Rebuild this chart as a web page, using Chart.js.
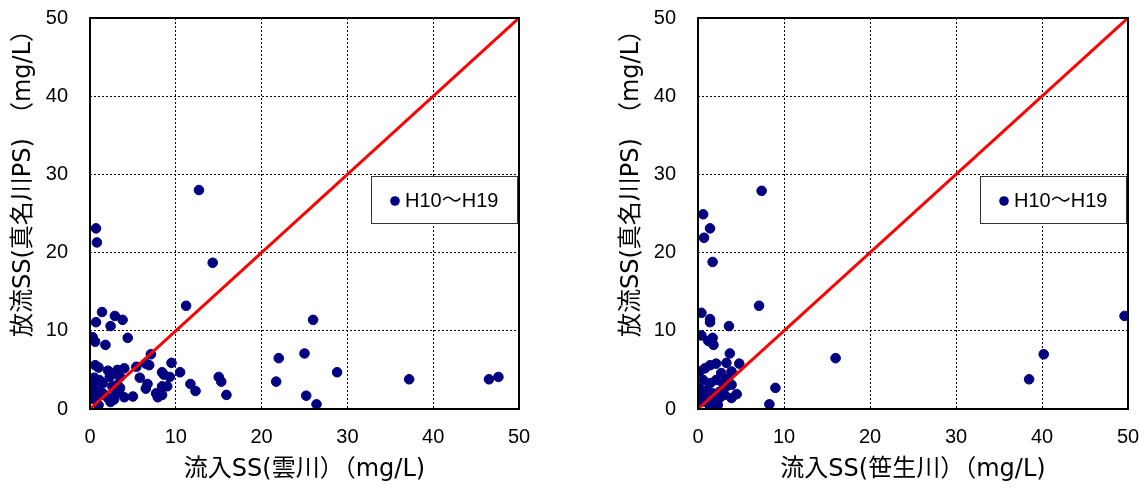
<!DOCTYPE html>
<html>
<head>
<meta charset="utf-8">
<script src="https://cdn.jsdelivr.net/npm/chart.js@4"></script>
<style>
    body { margin: 0; background: #fff; }
    #wrap { position: relative; width: 1147px; height: 490px; }
    canvas { position: absolute; top: 0; }
</style>
</head>
<body>
<div id="wrap">
    <canvas id="leftChart" width="560" height="490" style="left:0"></canvas>
    <canvas id="rightChart" width="539" height="490" style="left:608px"></canvas>
</div>
<script>
// 雲川 -> 真名川PS
const kumoX = [11.2, 1.4, 2.9, 0.7, 3.8, 2.4, 0.3, 0.6, 1.8, 4.4, 7.1, 9.5, 10.5, 6.5, 6.9, 5.4, 8.4, 8.6, 9.3, 5.8,
    6.7, 6.5, 8.4, 9.0, 7.7, 7.9, 8.4, 11.7, 12.3, 15.0, 15.3, 15.9, 5.0, 4.0, 3.2, 0.6, 1.0, 2.1, 2.3, 0.5,
    1.1, 3.3, 3.5, 2.6, 3.2, 3.5, 1.2, 1.5, 0.3, 0.5, 1.0, 0.1, 0.7, 1.0, 1.7, 2.1, 2.4, 2.8, 4.0, 3.0,
    3.4, 1.5, 12.7, 0.7, 0.8, 14.3, 26.0, 22.0, 25.0, 28.8, 21.7, 25.2, 26.4, 37.2, 46.5, 47.6];
const kumoY = [13.2, 12.4, 11.9, 11.1, 11.4, 10.6, 9.2, 8.6, 8.2, 9.1, 7.0, 5.9, 4.7, 5.8, 5.6, 5.4, 4.7, 4.4, 4.1, 4.0,
    3.2, 2.6, 2.9, 2.9, 2.0, 1.5, 1.8, 3.2, 2.3, 4.1, 3.5, 1.8, 1.6, 5.2, 5.0, 5.6, 5.3, 4.9, 4.1, 4.0,
    3.7, 4.4, 4.1, 2.9, 3.1, 2.7, 3.5, 3.3, 2.9, 2.4, 2.2, 1.3, 1.2, 0.5, 1.8, 1.4, 0.9, 1.2, 1.5, 2.0,
    2.4, 2.0, 28.0, 23.1, 21.3, 18.7, 11.4, 6.5, 7.1, 4.7, 3.5, 1.7, 0.6, 3.8, 3.8, 4.1];

// 笹生川 -> 真名川PS
const sasoX = [7.4, 0.6, 1.4, 0.7, 1.7, 7.1, 0.4, 1.4, 1.4, 3.6, 0.4, 1.2, 1.7, 1.8, 3.7, 4.8, 9.0, 8.3, 16.0, 40.2,
    38.5, 49.6, 0.2, 0.8, 1.4, 2.1, 3.3, 3.9, 2.7, 0.6, 1.4, 2.1, 2.9, 3.5, 0.2, 1.0, 1.7, 2.5, 3.3, 3.9,
    4.5, 3.9, 0.6, 1.2, 1.7, 2.5, 3.1, 0.4, 1.4, 2.3];
const sasoY = [27.9, 24.9, 23.1, 21.9, 18.8, 13.2, 12.3, 11.5, 11.1, 10.6, 9.4, 8.7, 9.1, 8.2, 7.1, 5.8, 2.7, 0.6, 6.5, 7.0,
    3.8, 11.9, 4.8, 5.2, 5.6, 5.8, 5.9, 4.8, 4.6, 3.7, 3.3, 3.7, 3.3, 3.9, 2.6, 2.4, 2.0, 2.2, 2.9, 3.1,
    1.9, 1.4, 1.6, 0.7, 1.2, 1.4, 1.8, 0.9, 0.3, 0.5];

const seriesLabel = "H10～H19";
const oneToOne = [0, 50];
const axisTicks = [0, 10, 20, 30, 40, 50];
const yTitle = "放流SS(真名川PS)　（mg/L）";

const FONT = "'Liberation Sans', 'Noto Sans CJK JP', sans-serif";
const JFONT = "'DejaVu Sans', 'Noto Sans CJK JP', sans-serif";

const frameAndLegend = {
    id: "frameAndLegend",
    afterDatasetsDraw(chart) {
        const { ctx, chartArea: a } = chart;
        ctx.save();
        ctx.strokeStyle = "#000";
        ctx.lineWidth = 2;
        ctx.strokeRect(a.left, a.top, a.right - a.left, a.bottom - a.top);

        // legend box
        const w = 146, h = 47;
        const bx = a.right - w - 2, by = a.top + 158;
        ctx.fillStyle = "#fff";
        ctx.fillRect(bx, by, w, h);
        ctx.lineWidth = 1;
        ctx.strokeStyle = "#333";
        ctx.strokeRect(bx + 0.5, by + 0.5, w, h);
        ctx.fillStyle = "#000080";
        ctx.beginPath();
        ctx.arc(bx + 24, by + 25, 4.8, 0, Math.PI * 2);
        ctx.fill();
        ctx.fillStyle = "#000";
        ctx.font = "20px " + FONT;
        ctx.textBaseline = "middle";
        ctx.fillText(chart.data.datasets[1].label, bx + 34, by + 25);
        ctx.restore();
    }
};

function makeChart(id, xs, ys, xTitle, padRight) {
    const points = xs.map((x, i) => ({ x: x, y: ys[i] }));
    const gridColor = ctx => (ctx.tick && (ctx.tick.value === 0 || ctx.tick.value === 50)) ? "rgba(0,0,0,0)" : "#000";
    return new Chart(document.getElementById(id), {
        type: "scatter",
        data: {
            datasets: [
                {
                    type: "line",
                    label: "1:1",
                    data: oneToOne.map(v => ({ x: v, y: v })),
                    borderColor: "#ff0000",
                    borderWidth: 3,
                    pointRadius: 0,
                    fill: false
                },
                {
                    label: seriesLabel,
                    data: points,
                    backgroundColor: "#000080",
                    borderColor: "#000080",
                    pointRadius: 4.8
                }
            ]
        },
        options: {
            responsive: false,
            animation: false,
            layout: { padding: { top: 18, right: padRight, left: 0, bottom: 0 } },
            plugins: { legend: { display: false }, tooltip: { enabled: false } },
            scales: {
                x: {
                    type: "linear",
                    min: 0,
                    max: 50,
                    afterBuildTicks: s => { s.ticks = axisTicks.map(v => ({ value: v })); },
                    afterFit: s => { s.height = 81; s.paddingLeft = 0; s.paddingRight = 0; },
                    grid: { color: gridColor, lineWidth: 1, drawTicks: false },
                    border: { display: false, dash: [2, 2] },
                    ticks: { color: "#000", padding: 16, font: { family: FONT, size: 20 } },
                    title: { display: true, text: xTitle, color: "#000", padding: { top: 0, bottom: 6 }, font: { family: JFONT, size: 24 } }
                },
                y: {
                    type: "linear",
                    min: 0,
                    max: 50,
                    afterBuildTicks: s => { s.ticks = axisTicks.map(v => ({ value: v })); },
                    afterFit: s => { s.width = 90; s.paddingTop = 0; s.paddingBottom = 0; },
                    grid: { color: gridColor, lineWidth: 1, drawTicks: false },
                    border: { display: false, dash: [2, 2] },
                    ticks: { color: "#000", padding: 22, font: { family: FONT, size: 20 } },
                    title: { display: true, text: yTitle, align: "end", color: "#000", padding: { top: 9, bottom: 0 }, font: { family: JFONT, size: 24 } }
                }
            }
        },
        plugins: [frameAndLegend]
    });
}

makeChart("leftChart", kumoX, kumoY, "流入SS(雲川）（mg/L)", 41);
makeChart("rightChart", sasoX, sasoY, "流入SS(笹生川）（mg/L)", 19);
</script>
</body>
</html>
